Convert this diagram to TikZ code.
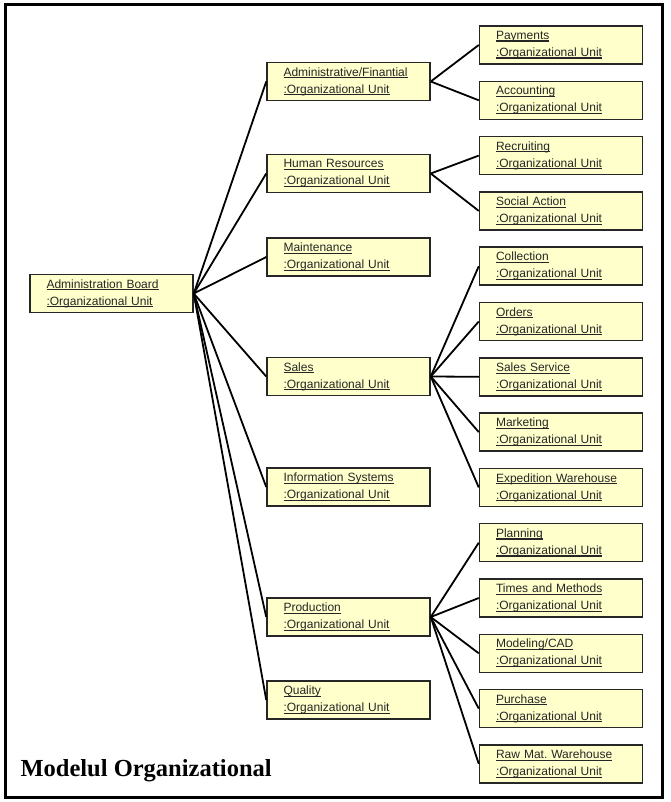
\documentclass[tikz,border=0pt]{standalone}
\usepackage{fontspec}
\setmainfont{Liberation Sans}
\newfontfamily\titlefont{Liberation Serif}
\usepackage{tikz}
\usetikzlibrary{positioning}
\definecolor{unitfill}{RGB}{255,255,204}
\newcommand{\ulined}[1]{\leavevmode\setbox0\hbox{#1}\rlap{\rule[-2.2pt]{\wd0}{1.1pt}}\box0}
\newcommand{\orgunit}[1]{\ulined{#1}\\\ulined{:Organizational Unit}}

\begin{document}
\begin{tikzpicture}[
x=1pt, y=-1pt,
orgbox/.style={
	rectangle, draw=black!85, line width=1.5pt,
	fill=unitfill, text=black!85,
	minimum width=163pt, minimum height=38pt,
	text width=130pt, inner xsep=16.5pt, align=left,
	font=\fontsize{12}{17}\selectfont
},
link/.style={line width=1.8pt},
node distance=15.8pt
]
\useasboundingbox (0,0) rectangle (670,802);
\draw[line width=3pt] (5,5) rectangle (662,797);
\node[orgbox] (board) at (111.5,293.5) {\orgunit{Administration Board}};
\node[orgbox] (adm) at (348.5,81.5) {\orgunit{Administrative/Finantial}};
\node[orgbox] (hr) at (348.5,173.5) {\orgunit{Human Resources}};
\node[orgbox] (mnt) at (348.5,257) {\orgunit{Maintenance}};
\node[orgbox] (sales) at (348.5,376.5) {\orgunit{Sales}};
\node[orgbox] (info) at (348.5,487) {\orgunit{Information Systems}};
\node[orgbox] (prod) at (348.5,617) {\orgunit{Production}};
\node[orgbox] (qual) at (348.5,700) {\orgunit{Quality}};
\node[orgbox] (pay) at (561,45) {\orgunit{Payments}};
\node[orgbox,below=of pay] (acc) {\orgunit{Accounting}};
\node[orgbox,below=of acc] (rec) {\orgunit{Recruiting}};
\node[orgbox,below=of rec] (soc) {\orgunit{Social Action}};
\node[orgbox,below=of soc] (coll) {\orgunit{Collection}};
\node[orgbox,below=of coll] (ord) {\orgunit{Orders}};
\node[orgbox,below=of ord] (serv) {\orgunit{Sales Service}};
\node[orgbox,below=of serv] (mkt) {\orgunit{Marketing}};
\node[orgbox,below=of mkt] (exp) {\orgunit{Expedition Warehouse}};
\node[orgbox,below=of exp] (plan) {\orgunit{Planning}};
\node[orgbox,below=of plan] (times) {\orgunit{Times and Methods}};
\node[orgbox,below=of times] (cad) {\orgunit{Modeling/CAD}};
\node[orgbox,below=of cad] (purch) {\orgunit{Purchase}};
\node[orgbox,below=of purch] (raw) {\orgunit{Raw Mat.\ Warehouse}};
\foreach \n in {adm,hr,mnt,sales,info,prod,qual}
	\draw[link] (board.east) -- (\n.west);
\foreach \n in {pay,acc}
	\draw[link] (adm.east) -- (\n.west);
\foreach \n in {rec,soc}
	\draw[link] (hr.east) -- (\n.west);
\foreach \n in {coll,ord,serv,mkt,exp}
	\draw[link] (sales.east) -- (\n.west);
\foreach \n in {plan,times,cad,purch,raw}
	\draw[link] (prod.east) -- (\n.west);
\node[font=\titlefont\bfseries\fontsize{24.5}{28}\selectfont, anchor=base west] (title) at (17,776) {Modelul Organizational};
\end{tikzpicture}
\end{document}
